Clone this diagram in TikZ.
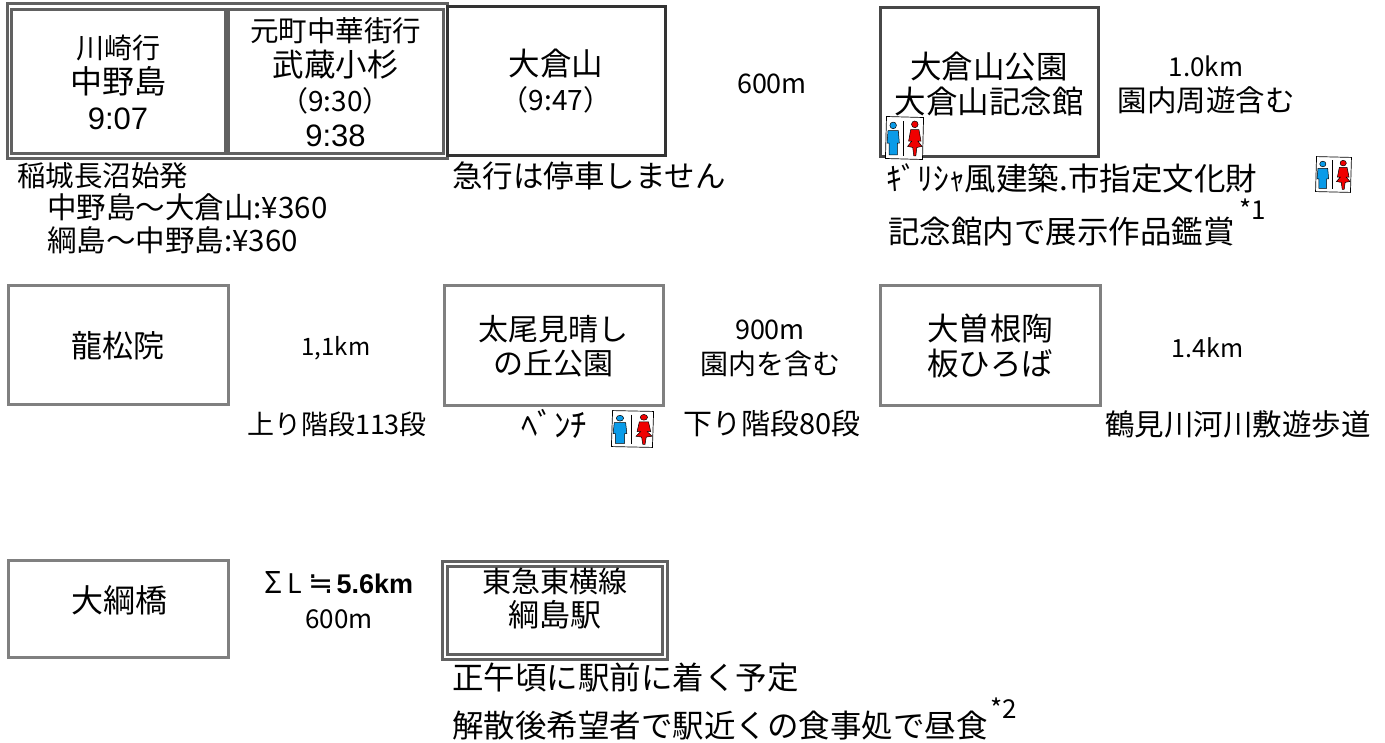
\documentclass[tikz,border=0pt]{standalone}
\usepackage{fontspec}
\setmainfont{Noto Sans CJK JP}
\newfontfamily\arialish{Liberation Sans}
\newfontfamily\symbolish{DejaVu Sans}
\newcommand\fsz[2]{\fontsize{#1pt}{#2pt}\selectfont}
\definecolor{wcblue}{HTML}{0A9BE8}
\definecolor{wcred}{HTML}{F00000}
\tikzset{
  stationbox/.style={draw=#1,line width=3pt,fill=none,inner sep=0pt,align=center,text=black},
  note/.style={inner sep=0pt,anchor=center,text=black,align=center},
  noteleft/.style={inner sep=0pt,anchor=west,text=black,align=left},
  wc/.pic={
    \draw[fill=white,line width=.7pt,rotate=-1.5] (-18,-20) rectangle (18,20);
    \draw[line width=.7pt] (-1,-16) -- (-1,17);
    \fill[fill=wcblue,draw=black,line width=.5pt] (-11,-12) circle (3.2);
    \draw[fill=wcblue,line width=.5pt] (-16,-7) -- (-6,-7) -- (-5,5) -- (-7,5) -- (-7,16) -- (-15,16) -- (-15,5) -- (-17,5) -- cycle;
    \fill[fill=wcred,draw=black,line width=.5pt] (10,-13) circle (3.2);
    \draw[fill=wcred,line width=.5pt] (6,-8) -- (14,-8) -- (16,3) -- (13,3) -- (17,8) -- (12,9) -- (11,17) -- (9,17) -- (8,9) -- (3,8) -- (7,3) -- (4,3) -- cycle;
  }
}
\begin{document}
\begin{tikzpicture}[x=1pt,y=-1pt]
\useasboundingbox (0,0) rectangle (1385,743);
\fill[white] (0,0) rectangle (1385,743);

% top row
\node[stationbox={black!62},minimum width=214pt,minimum height=144pt,font=\fsz{32}{35.5}] (nakanoshima) at (118,82)
  {\fsz{28}{35.5}川崎行\\中野島\\\arialish\fsz{31}{35.5}9:07};
\node[stationbox={black!62},minimum width=215pt,minimum height=144pt,font=\fsz{31.5}{35}] (kosugi) at (335.5,82)
  {\fsz{28.5}{35}元町中華街行\\武蔵小杉\\\fsz{28}{35}（9:30）\\\arialish\fsz{31}{35}9:38};
\node[draw=black!62,line width=3pt,inner sep=0pt,minimum width=440pt,minimum height=155pt] (transfer) at (227,81.5) {};
\node[stationbox={black!80},minimum width=218pt,minimum height=149pt,font=\fsz{31.5}{35}] (okurayama) at (556,81.5)
  {大倉山\\\fsz{28}{35}（9:47）};
\node[note] (d600a) at (772,84) {\fsz{27}{30}600m};
\node[stationbox={black!72},minimum width=218pt,minimum height=149pt] (park) at (989,82) {};
\node[note,font=\fsz{31.5}{35}] (parktext) at (989,84.5) {大倉山公園\\大倉山記念館};
\node[note,font=\fsz{29.5}{35}] (d10) at (1206,85) {\fsz{26}{35}1.0km\\園内周遊含む};
\pic[xscale=1.03,yscale=1.05] at (904.5,138) {wc};
\pic[xscale=.97,yscale=.875] at (1333.5,174.5) {wc};

\node[noteleft] (inagi) at (17,176) {\fsz{28.5}{32}稲城長沼始発};
\node[noteleft] (fare1) at (47,207) {\fsz{29.5}{32}中野島～大倉山:¥360};
\node[noteleft] (fare2) at (47,240) {\fsz{29.5}{32}綱島～中野島:¥360};
\node[noteleft] (express) at (452,176) {\fsz{30.5}{34}急行は停車しません};
\node[noteleft] (greek) at (886,178) {\fsz{31.5}{34}ｷﾞﾘｼｬ風建築.市指定文化財};
\node[noteleft] (museum) at (888,232) {\fsz{31.5}{34}記念館内で展示作品鑑賞};
\node[noteleft] (star1) at (1239,209) {\fsz{26}{30}*1};

% middle row
\node[stationbox={black!50},minimum width=220pt,minimum height=119pt] (ryusho) at (118,345.5) {\fsz{31}{36}龍松院};
\node[note] (d11) at (336,348.5) {\fsz{24}{30}1,1km};
\node[note] (up) at (337,424) {\fsz{27}{30}上り階段113段};
\node[stationbox={black!50},minimum width=219pt,minimum height=120pt,font=\fsz{30}{34.5}] (futoo) at (553.5,346)
  {太尾見晴し\\の丘公園};
\node[note] (bench) at (554,424) {\fsz{33}{36}ﾍﾞﾝﾁ};
\pic[xscale=1.14,yscale=.9] at (632.5,429) {wc};
\node[note,font=\fsz{28}{35}] (d900) at (770,348.5) {\fsz{27}{35}900m\\園内を含む};
\node[note] (down) at (772,424) {\fsz{29}{32}下り階段80段};
\node[stationbox={black!50},minimum width=220pt,minimum height=120pt,font=\fsz{31.5}{35.5}] (osone) at (990,346)
  {大曽根陶\\板ひろば};
\node[note] (d14) at (1207.5,347.5) {\fsz{25}{30}1.4km};
\node[noteleft] (tsurumi) at (1105,424) {\fsz{29.5}{34}鶴見川河川敷遊歩道};

% bottom row
\node[stationbox={black!50},minimum width=220pt,minimum height=97pt] (otsuna) at (118,608.5) {};
\node[note] (otsunatext) at (119,600) {\fsz{32}{36}大綱橋};
\node[note,font=\fsz{27}{35}] (total) at (339,600.5) {{\fsz{30}{35}Σ}\hspace{5pt}L\hspace{6pt}{\symbolish\fsz{30}{35}≒}\hspace{3pt}{\arialish\bfseries 5.6km}\\\fsz{26}{35}600m};
\node[stationbox={black!62},minimum width=215pt,minimum height=88pt] (tsunashima) at (554.5,610.5) {};
\node[note,font=\fsz{31}{34}] (tsunashimatext) at (554.5,598.5) {\fsz{29}{34}東急東横線\\綱島駅};
\node[draw=black!62,line width=3pt,inner sep=0pt,minimum width=225pt,minimum height=98pt] (terminal) at (554.5,610.5) {};
\node[noteleft] (noon) at (452,678) {\fsz{31.5}{36}正午頃に駅前に着く予定};
\node[noteleft] (lunch) at (452,726) {\fsz{31.5}{36}解散後希望者で駅近くの食事処で昼食};
\node[noteleft] (star2) at (990,708) {\fsz{26}{30}*2};
\end{tikzpicture}
\end{document}
